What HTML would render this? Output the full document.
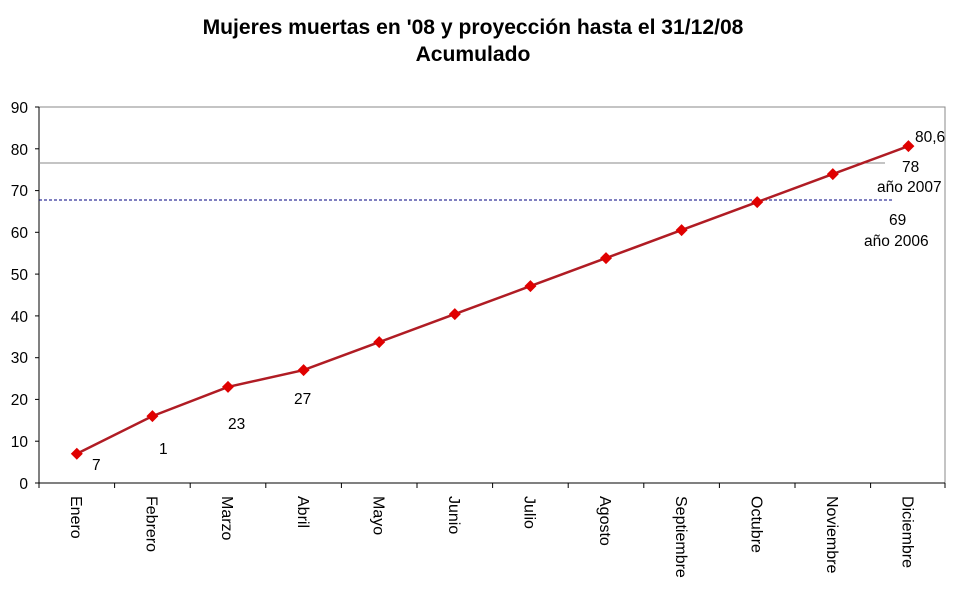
<!DOCTYPE html>
<html><head><meta charset="utf-8"><style>body{margin:0;background:#fff}svg{display:block}text{font-family:"Liberation Sans",Arial,sans-serif}</style></head><body>
<svg width="970" height="602" xmlns="http://www.w3.org/2000/svg">
<text x="473" y="34" text-anchor="middle" font-size="21.1" font-weight="bold">Mujeres muertas en '08 y proyección hasta el 31/12/08</text>
<text x="473" y="61" text-anchor="middle" font-size="21.1" font-weight="bold">Acumulado</text>
<rect x="39" y="107" width="906" height="376" fill="none" stroke="#888" stroke-width="1"/>
<g stroke="#000" stroke-width="1">
<line x1="39" y1="107" x2="39" y2="483"/>
<line x1="39" y1="483" x2="945" y2="483"/>
<line x1="35" y1="107" x2="39" y2="107"/><line x1="35" y1="148.8" x2="39" y2="148.8"/><line x1="35" y1="190.6" x2="39" y2="190.6"/><line x1="35" y1="232.3" x2="39" y2="232.3"/><line x1="35" y1="274.1" x2="39" y2="274.1"/><line x1="35" y1="315.9" x2="39" y2="315.9"/><line x1="35" y1="357.7" x2="39" y2="357.7"/><line x1="35" y1="399.4" x2="39" y2="399.4"/><line x1="35" y1="441.2" x2="39" y2="441.2"/><line x1="35" y1="483" x2="39" y2="483"/>
<line x1="39" y1="483" x2="39" y2="488"/><line x1="114.6" y1="483" x2="114.6" y2="488"/><line x1="190.2" y1="483" x2="190.2" y2="488"/><line x1="265.8" y1="483" x2="265.8" y2="488"/><line x1="341.4" y1="483" x2="341.4" y2="488"/><line x1="417" y1="483" x2="417" y2="488"/><line x1="492.6" y1="483" x2="492.6" y2="488"/><line x1="568.2" y1="483" x2="568.2" y2="488"/><line x1="643.8" y1="483" x2="643.8" y2="488"/><line x1="719.4" y1="483" x2="719.4" y2="488"/><line x1="795" y1="483" x2="795" y2="488"/><line x1="870.6" y1="483" x2="870.6" y2="488"/><line x1="945" y1="483" x2="945" y2="488"/>
</g>
<g font-size="15.5" text-anchor="end">
<text x="28" y="113">90</text><text x="28" y="155">80</text><text x="28" y="196">70</text><text x="28" y="238">60</text><text x="28" y="280">50</text><text x="28" y="322">40</text><text x="28" y="363">30</text><text x="28" y="405">20</text><text x="28" y="447">10</text><text x="28" y="489">0</text>
</g>
<g font-size="16">
<text transform="translate(71,496) rotate(90)">Enero</text>
<text transform="translate(146.6,496) rotate(90)">Febrero</text>
<text transform="translate(222.2,496) rotate(90)">Marzo</text>
<text transform="translate(297.8,496) rotate(90)">Abril</text>
<text transform="translate(373.4,496) rotate(90)">Mayo</text>
<text transform="translate(449,496) rotate(90)">Junio</text>
<text transform="translate(524.6,496) rotate(90)">Julio</text>
<text transform="translate(600.2,496) rotate(90)">Agosto</text>
<text transform="translate(675.8,496) rotate(90)">Septiembre</text>
<text transform="translate(751.4,496) rotate(90)">Octubre</text>
<text transform="translate(827,496) rotate(90)">Noviembre</text>
<text transform="translate(902.6,496) rotate(90)">Diciembre</text>
</g>
<line x1="39" y1="163" x2="885" y2="163" stroke="#888" stroke-width="1"/>
<line x1="39" y1="200" x2="892" y2="200" stroke="#000080" stroke-width="1" stroke-dasharray="3,2"/>
<polyline fill="none" stroke="#b01c24" stroke-width="2.5" points="76.8,453.7 152.4,416.1 228,386.9 303.6,370.1 379.2,342.1 454.8,314.1 530.4,286.1 606,258.1 681.6,230.1 757.2,202.1 832.8,174.1 908.4,146.1"/>
<g fill="#e00000">
<path d="M76.8,447.7l6,6-6,6-6-6z"/><path d="M152.4,410.1l6,6-6,6-6-6z"/><path d="M228,380.9l6,6-6,6-6-6z"/><path d="M303.6,364.1l6,6-6,6-6-6z"/><path d="M379.2,336.1l6,6-6,6-6-6z"/><path d="M454.8,308.1l6,6-6,6-6-6z"/><path d="M530.4,280.1l6,6-6,6-6-6z"/><path d="M606,252.1l6,6-6,6-6-6z"/><path d="M681.6,224.1l6,6-6,6-6-6z"/><path d="M757.2,196.1l6,6-6,6-6-6z"/><path d="M832.8,168.1l6,6-6,6-6-6z"/><path d="M908.4,140.1l6,6-6,6-6-6z"/>
</g>
<g font-size="15.5">
<text x="92" y="470">7</text>
<text x="159" y="454">1</text>
<text x="228" y="429">23</text>
<text x="294" y="404">27</text>
<text x="915" y="142">80,6</text>
<text x="902" y="172">78</text>
<text x="877" y="192">año 2007</text>
<text x="889" y="225">69</text>
<text x="864" y="246">año 2006</text>
</g>
</svg>
</body></html>
